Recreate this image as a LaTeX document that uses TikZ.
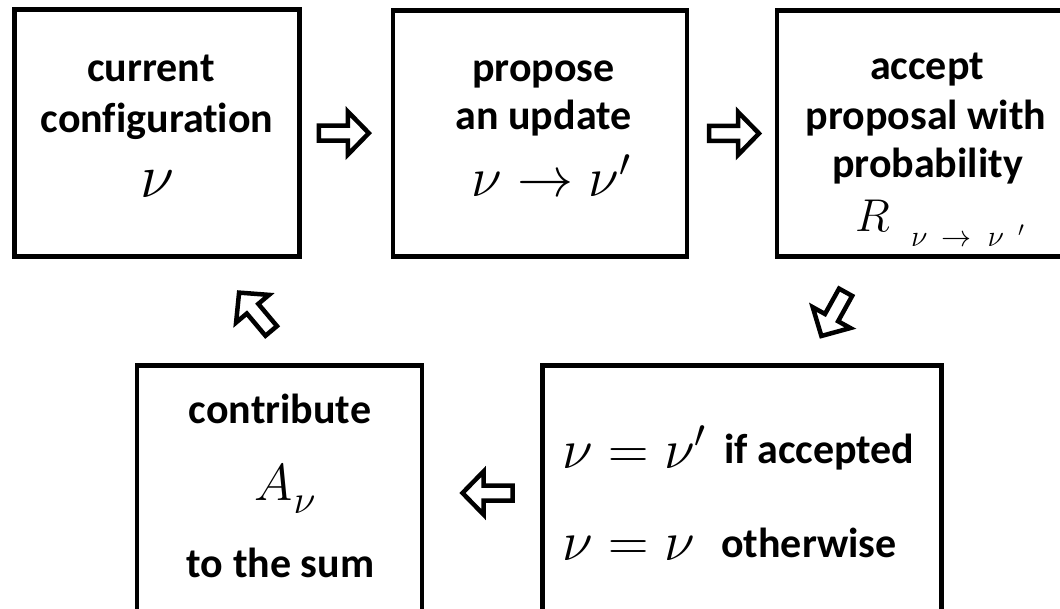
\RequirePackage{fix-cm}
\documentclass[tikz,border=0pt]{standalone}
\usepackage[no-math]{fontspec}
\setmainfont{Carlito}[Ligatures=NoCommon]
\usetikzlibrary{calc}

\tikzset{
  box/.style={draw, line width=4.5pt, inner sep=0pt},
  lbl/.style={font=\fontsize{42}{42}\selectfont\bfseries, anchor=base, inner sep=0pt},
  mth/.style={font=\fontsize{#1}{#1}\selectfont, anchor=base, inner sep=0pt},
  blockarrow/.pic={
    \draw[line width=4.5pt, line join=miter, fill=white]
      (-26,-7.5) -- (3,-7.5) -- (3,-21.5) -- (24,0) -- (3,21.5) -- (3,7.5) -- (-26,7.5) -- cycle;
  }
}

\begin{document}
\begin{tikzpicture}[x=1pt,y=-1pt]
\useasboundingbox (0,0) rectangle (1060,609);

% the five stages of the update loop
\node[box, minimum width=285pt, minimum height=247pt] (b1) at (157.2,132.8) {};
\node[box, minimum width=294pt, minimum height=246pt] (b2) at (540,133.4) {};
\node[box, minimum width=298pt, minimum height=246pt] (b3) at (926,133.5) {};
\node[box, minimum width=285pt, minimum height=264pt] (b4) at (279.3,497.5) {};
\node[box, minimum width=399pt, minimum height=264pt] (b5) at (742,497.5) {};

% stage texts
\node[lbl] (t11) at (151,82) {current};
\node[lbl] (t12) at (157,133) {configuration};
\node[mth=62] (t13) at (157,198) {$\nu$};

\node[lbl] (t21) at (543.5,82) {propose};
\node[lbl] (t22) at (543.5,130) {an update};
\node[mth=56] (t23) at (551,197) {$\nu\rightarrow\nu'$};

\node[lbl] (t31) at (927,80) {accept};
\node[lbl] (t32) at (926,130) {proposal with};
\node[lbl] (t33) at (927.5,178) {probability};
\node[mth=46, anchor=base west] (t34) at (855,232) {$R$};
\node[mth=30, anchor=base west] (t35) at (911,247)
  {$\nu$\hspace{14pt}$\rightarrow$\hspace{16pt}$\nu$\hspace{14pt}${}'$};

\node[lbl] (t41) at (280,423) {contribute};
\node[mth=52] (t42) at (285,500)
  {$A$\kern1pt\raisebox{-13pt}{\fontsize{40}{40}\selectfont$\nu$}};
\node[lbl] (t43) at (280.5,577) {to the sum};

\node[lbl, anchor=base west] (t51) at (562,463)
  {\makebox[162pt][l]{\raisebox{-5pt}{\fontsize{56}{56}\selectfont$\nu=\nu'$}}if accepted};
\node[lbl, anchor=base west] (t52) at (562,557)
  {\makebox[159pt][l]{\raisebox{-3pt}{\fontsize{56}{56}\selectfont$\nu=\nu$}}otherwise};

% block arrows leading from one stage to the next
\pic at ($(b1.east)!0.5!(b2.west)+(-1.5,0)$) {blockarrow};
\pic at ($(b2.east)!0.5!(b3.west)+(3,0)$) {blockarrow};
\pic[rotate=241] at (833,315) {blockarrow};
\pic[rotate=180] at (486.5,493) {blockarrow};
\pic[rotate=130] at (254.5,311) {blockarrow};
\end{tikzpicture}
\end{document}
